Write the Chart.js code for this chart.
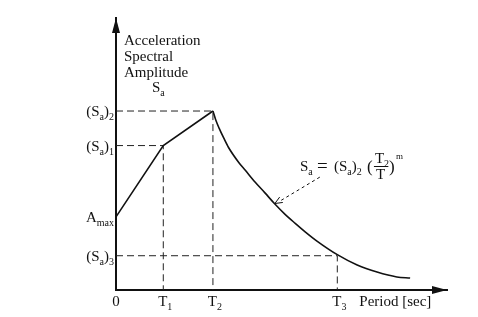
<!DOCTYPE html>
<html>
<head>
<meta charset="utf-8">
<script src="https://cdn.jsdelivr.net/npm/chart.js@4/dist/chart.umd.min.js"></script>
<style>
  html, body { margin: 0; padding: 0; background: #fff; }
  #wrap { width: 478px; height: 317px; position: relative; }
</style>
</head>
<body>
<div id="wrap"><canvas id="c"></canvas></div>
<script>
// periods on x (T1, T2, T3) and spectral levels on y, in chart units
const periodTicks = [0, 1.0, 2.05, 4.68];
const periodLabels = [["0", ""], ["T", "1"], ["T", "2"], ["T", "3"]];
const levelTicks = [6.58, 5.31, 2.69, 1.26];
const levelLabels = [["(S", "a", ")", "2"], ["(S", "a", ")", "1"], ["A", "max", "", ""], ["(S", "a", ")", "3"]];

// rising branch: Amax -> (Sa)1 -> (Sa)2
const rampT = [0, 1.0, 2.05];
const rampSa = [2.69, 5.31, 6.58];

// decaying branch
const decayT = [2.05, 2.11, 2.18, 2.28, 2.38, 2.60, 2.73, 2.94, 3.15, 3.36, 3.57, 3.79, 4.00, 4.25, 4.68, 5.10, 5.52, 5.94, 6.22];
const decaySa = [6.58, 6.25, 5.95, 5.58, 5.24, 4.68, 4.41, 3.97, 3.57, 3.16, 2.79, 2.45, 2.14, 1.80, 1.30, 0.92, 0.66, 0.48, 0.44];

const SERIF = "'Liberation Serif', 'Times New Roman', serif";

function pts(xs, ys) { return xs.map((x, i) => ({ x: x, y: ys[i] })); }

function guide(t, sa) {
  return {
    data: [{ x: 0, y: sa }, { x: t, y: sa }, { x: t, y: 0 }],
    borderColor: "#222", borderWidth: 1, borderDash: [7, 4],
    pointRadius: 0, tension: 0, fill: false
  };
}

// text with a subscript (and optional following text + subscript)
function subText(ctx, x, y, parts, align) {
  const big = "15px " + SERIF, small = "10px " + SERIF;
  let w = 0;
  const widths = parts.map((p, i) => {
    ctx.font = i % 2 ? small : big;
    const m = ctx.measureText(p).width;
    w += m;
    return m;
  });
  let cx = align === "right" ? x - w : align === "center" ? x - w / 2 : x;
  parts.forEach((p, i) => {
    ctx.font = i % 2 ? small : big;
    ctx.fillText(p, cx, i % 2 ? y + 4 : y);
    cx += widths[i];
  });
}

const labelsPlugin = {
  id: "labels",
  afterDraw(chart) {
    const ctx = chart.ctx, a = chart.chartArea;
    const xs = chart.scales.x, ys = chart.scales.y;
    ctx.save();
    ctx.fillStyle = "#111";
    ctx.strokeStyle = "#111";
    ctx.textBaseline = "alphabetic";
    ctx.textAlign = "left";

    // arrowheads on the axes
    ctx.beginPath();
    ctx.moveTo(a.left, a.top);
    ctx.lineTo(a.left - 4, a.top + 15);
    ctx.lineTo(a.left + 4, a.top + 15);
    ctx.closePath(); ctx.fill();
    ctx.beginPath();
    ctx.moveTo(a.right, a.bottom);
    ctx.lineTo(a.right - 15, a.bottom - 4);
    ctx.lineTo(a.right - 15, a.bottom + 4);
    ctx.closePath(); ctx.fill();

    // y title
    ctx.font = "15px " + SERIF;
    ctx.fillText("Acceleration", a.left + 8, 45);
    ctx.fillText("Spectral", a.left + 8, 61);
    ctx.fillText("Amplitude", a.left + 8, 77);
    subText(ctx, a.left + 36, 92, ["S", "a"]);

    // y level labels
    levelTicks.forEach((v, i) => {
      subText(ctx, a.left - 2, ys.getPixelForValue(v) + 5, levelLabels[i], "right");
    });

    // x period labels
    periodTicks.forEach((v, i) => {
      subText(ctx, xs.getPixelForValue(v) + (i ? 2 : 0), a.bottom + 16, periodLabels[i], "center");
    });
    ctx.font = "15px " + SERIF;
    ctx.fillText("Period [sec]", xs.getPixelForValue(4.68) + 22, a.bottom + 16);

    // formula Sa = (Sa)2 (T2/T)^m
    const fx = xs.getPixelForValue(3.89), fy = 171;
    subText(ctx, fx, fy, ["S", "a"]);
    ctx.font = "19px " + SERIF;
    ctx.fillText("=", fx + 17, fy + 1);
    subText(ctx, fx + 34, fy, ["(S", "a", ")", "2"]);
    ctx.font = "17px " + SERIF;
    ctx.fillText("(", fx + 67, fy + 1);
    ctx.fillText(")", fx + 89, fy + 1);
    subText(ctx, fx + 75, fy - 8, ["T", "2"]);
    ctx.font = "15px " + SERIF;
    ctx.fillText("T", fx + 76, fy + 8);
    ctx.lineWidth = 1;
    ctx.beginPath();
    ctx.moveTo(fx + 74, fy - 4.5); ctx.lineTo(fx + 88, fy - 4.5); ctx.stroke();
    ctx.font = "9px " + SERIF;
    ctx.fillText("m", fx + 96, fy - 12);

    // dashed pointer to the curve
    const p0x = xs.getPixelForValue(4.31), p0y = ys.getPixelForValue(4.15);
    const p1x = xs.getPixelForValue(3.36), p1y = ys.getPixelForValue(3.18);
    ctx.setLineDash([3, 3]);
    ctx.beginPath(); ctx.moveTo(p0x, p0y); ctx.lineTo(p1x + 6, p1y - 3); ctx.stroke();
    ctx.setLineDash([]);
    const ang = Math.atan2(p1y - p0y, p1x - p0x);
    ctx.beginPath();
    ctx.moveTo(p1x, p1y);
    ctx.lineTo(p1x - 8 * Math.cos(ang - 0.4), p1y - 8 * Math.sin(ang - 0.4));
    ctx.moveTo(p1x, p1y);
    ctx.lineTo(p1x - 8 * Math.cos(ang + 0.4), p1y - 8 * Math.sin(ang + 0.4));
    ctx.stroke();
    ctx.restore();
  }
};

new Chart(document.getElementById("c"), {
  type: "line",
  data: {
    datasets: [
      { data: pts(rampT, rampSa), borderColor: "#111", borderWidth: 1.6, pointRadius: 0, tension: 0 },
      { data: pts(decayT, decaySa), borderColor: "#111", borderWidth: 1.6, pointRadius: 0, cubicInterpolationMode: "monotone" },
      guide(periodTicks[1], levelTicks[1]),
      guide(periodTicks[2], levelTicks[0]),
      guide(periodTicks[3], levelTicks[3])
    ]
  },
  options: {
    responsive: true,
    maintainAspectRatio: false,
    animation: false,
    layout: { padding: { left: 116, right: 31, top: 18, bottom: 27 } },
    plugins: { legend: { display: false }, tooltip: { enabled: false } },
    scales: {
      x: {
        type: "linear", min: 0, max: 7,
        grid: { display: false },
        border: { display: true, color: "#111", width: 2 },
        ticks: { display: false },
        afterFit: s => { s.height = 0; }
      },
      y: {
        type: "linear", min: 0, max: 10,
        grid: { display: false },
        border: { display: true, color: "#111", width: 2 },
        ticks: { display: false },
        afterFit: s => { s.width = 0; }
      }
    }
  },
  plugins: [labelsPlugin]
});
</script>
</body>
</html>
